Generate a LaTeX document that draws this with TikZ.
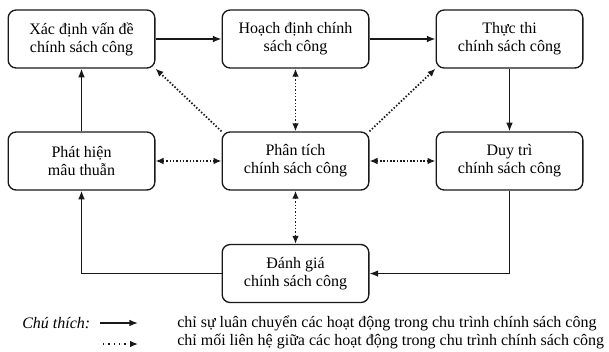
\documentclass[tikz,border=0pt]{standalone}
\usepackage{fontspec}
\setmainfont{Liberation Serif}
\usetikzlibrary{arrows.meta, positioning}
\definecolor{linecolor}{RGB}{25, 25, 25}
\tikzset{
    stage/.style={
        rectangle,
        rounded corners=6pt,
        minimum width=110pt,
        minimum height=43.5pt,
        text centered,
        align=center,
        draw=linecolor,
        line width=1pt,
        font=\fontsize{12}{13.5}\selectfont
    },
    flow/.style={
        line width=1pt,
        -{Latex[length=6.5pt, width=5pt]},
        color=linecolor
    },
    link/.style={
        line width=1.3pt,
        dash pattern=on 1.1pt off 1.4pt,
        {Latex[length=6pt, width=5pt]}-{Latex[length=6pt, width=5pt]},
        color=linecolor
    },
    halflink/.style={
        line width=1.3pt,
        dash pattern=on 1.1pt off 1.4pt,
        -{Latex[length=6pt, width=5pt]},
        color=linecolor
    },
    legend/.style={
        anchor=west,
        inner sep=0pt,
        font=\fontsize{12}{13.5}\selectfont
    }
}
\begin{document}
\begin{tikzpicture}[x=0.75pt, y=-0.75pt, node distance=160.5pt]
    \useasboundingbox (0,0) rectangle (609,351);

    % Top row of stages
    \node (identify) [stage] at (81.5,39) {Xác định vấn đề\\chính sách công};
    \node (plan) [stage, right of=identify] {Hoạch định chính\\sách công};
    \node (execute) [stage, right of=plan] {Thực thi\\chính sách công};

    % Middle row of stages
    \node (detect) [stage, below of=identify, node distance=91.5pt] {Phát hiện\\mâu thuẫn};
    \node (analysis) [stage, right of=detect] {Phân tích\\chính sách công};
    \node (maintain) [stage, right of=analysis] {Duy trì\\chính sách công};

    % Bottom stage
    \node (evaluate) [stage, below of=analysis, node distance=84.4pt] {Đánh giá\\chính sách công};

    % Draw the cycle
    \draw [flow] (identify) -- (plan);
    \draw [flow] (plan) -- (execute);
    \draw [flow] (execute) -- (maintain);
    \draw [flow] (maintain.south) |- (evaluate.east);
    \draw [flow] (evaluate.west) -| (detect.south);
    \draw [flow] (detect) -- (identify);

    % Draw the links of the analysis stage
    \draw [link] (analysis) -- (plan);
    \draw [link] (analysis) -- (detect);
    \draw [link] (analysis) -- (maintain);
    \draw [link] (analysis) -- (evaluate);
    \draw [halflink] (analysis.north west) -- (identify.south east);
    \draw [halflink] (analysis.north east) -- (execute.south west);

    % Legend
    \node (note) [legend, font=\fontsize{12}{13.5}\selectfont\itshape] at (22,323) {Chú thích:};
    \coordinate (solidstart) at (100,323);
    \coordinate (solidend) at (138,323);
    \draw [flow] (solidstart) -- (solidend);
    \coordinate (dotstart) at (103,344);
    \coordinate (dotend) at (138,344);
    \draw [halflink, dash pattern=on 1pt off 3pt] (dotstart) -- (dotend);
    \node (solidtext) [legend] at (177,323) {chỉ sự luân chuyển các hoạt động trong chu trình chính sách công};
    \node (dottext) [legend] at (177,341) {chỉ mối liên hệ giữa các hoạt động trong chu trình chính sách công};

\end{tikzpicture}
\end{document}
